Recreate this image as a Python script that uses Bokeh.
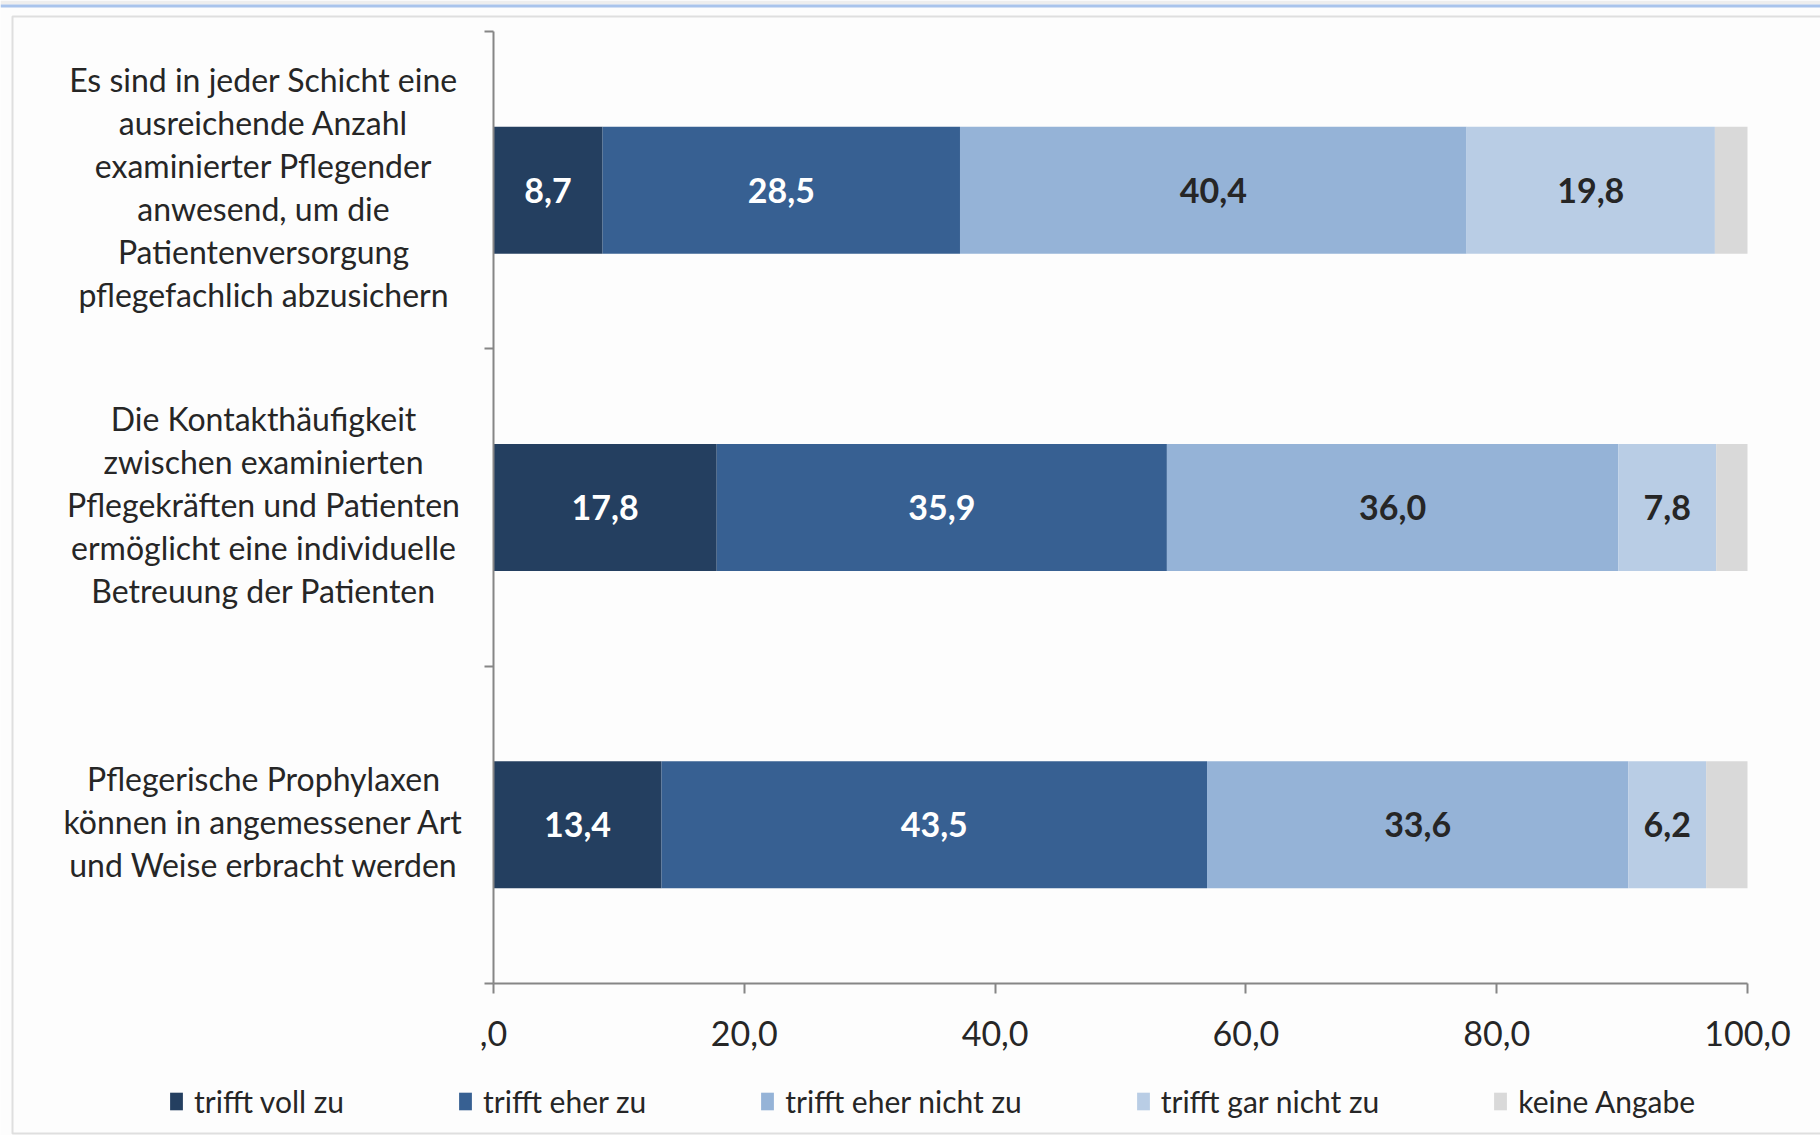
from bokeh.plotting import figure
from bokeh.models import (ColumnDataSource, Range1d, FixedTicker, Label, Legend, LegendItem,
                          BoxAnnotation, LinearAxis)
from bokeh.core.properties import value
from bokeh.embed import file_html
from bokeh.resources import INLINE

# ---- data ----
category_lines = [
    ["Es sind in jeder Schicht eine", "ausreichende Anzahl", "examinierter Pflegender",
     "anwesend, um die", "Patientenversorgung", "pflegefachlich abzusichern"],
    ["Die Kontakthäufigkeit", "zwischen examinierten", "Pflegekräften und Patienten",
     "ermöglicht eine individuelle", "Betreuung der Patienten"],
    ["Pflegerische Prophylaxen", "können in angemessener Art", "und Weise erbracht werden"],
]
series_names = ["trifft voll zu", "trifft eher zu", "trifft eher nicht zu",
                "trifft gar nicht zu", "keine Angabe"]
trifft_voll_zu = [8.7, 17.8, 13.4]
trifft_eher_zu = [28.5, 35.9, 43.5]
trifft_eher_nicht_zu = [40.4, 36.0, 33.6]
trifft_gar_nicht_zu = [19.8, 7.8, 6.2]
keine_angabe = [2.6, 2.5, 3.3]
series_values = [trifft_voll_zu, trifft_eher_zu, trifft_eher_nicht_zu,
                 trifft_gar_nicht_zu, keine_angabe]
show_labels = [True, True, True, True, False]
x_ticks = [0, 20, 40, 60, 80, 100]
x_tick_labels = [",0", "20,0", "40,0", "60,0", "80,0", "100,0"]

# ---- style ----
colors = ["#243F60", "#376092", "#95B3D7", "#B9CDE5", "#D9D9D9"]
label_colors = ["#FFFFFF", "#FFFFFF", "#262626", "#262626", "#262626"]
FONT = "Lato"
TEXT = "#262626"
AXIS = "#868686"

W, H = 1820, 1135
# plot area of the bars in canvas pixels
PX_L, PX_R, PX_T, PX_B = 493, 1747, 31, 983
sx = (PX_R - PX_L) / 100.0
sy = (PX_B - PX_T) / 3.0

y_pos = [2.5, 1.5, 0.5]  # first category on top

p = figure(width=W, height=H,
           x_range=Range1d(-PX_L / sx, 100 + (W - PX_R) / sx),
           y_range=Range1d(-(H - PX_B) / sy, 3 + PX_T / sy),
           output_backend="svg", toolbar_location=None,
           x_axis_location=None, y_axis_location=None,
           min_border=0)
p.outline_line_color = None
p.grid.visible = False
p.background_fill_color = "#FDFDFD"
p.border_fill_color = "#FDFDFD"

legend_items = []
left = [0.0, 0.0, 0.0]
for name, vals, col, lc, show in zip(series_names, series_values, colors, label_colors, show_labels):
    right = [l + v for l, v in zip(left, vals)]
    src = ColumnDataSource(dict(
        y=y_pos, left=left, right=right,
        mid=[(l + r) / 2 for l, r in zip(left, right)],
        txt=[f"{v:.1f}".replace(".", ",") for v in vals],
    ))
    r = p.hbar(y="y", left="left", right="right", height=0.4, source=src,
               fill_color=col, line_color=None)
    legend_items.append(LegendItem(label=name, renderers=[r]))
    if show:
        p.text(x="mid", y="y", text="txt", source=src, text_align="center",
               text_baseline="middle", text_font=value(FONT), text_font_style="bold",
               text_font_size="34px", text_color=lc)
    left = right

# x axis
xa = LinearAxis(fixed_location=0, bounds=(0, 100))
xa.ticker = FixedTicker(ticks=x_ticks)
xa.major_label_overrides = {t: s for t, s in zip(x_ticks, x_tick_labels)}
xa.minor_tick_line_color = None
xa.major_tick_in = 0
xa.major_tick_out = 10
xa.axis_line_color = AXIS
xa.axis_line_width = 2
xa.major_tick_line_color = AXIS
xa.major_tick_line_width = 2
xa.major_label_text_font = FONT
xa.major_label_text_font_size = "34px"
xa.major_label_text_color = TEXT
xa.major_label_standoff = 27
p.add_layout(xa, "below")

# y axis: tick marks at category boundaries, labels drawn separately
ya = LinearAxis(fixed_location=0, bounds=(0, 3))
ya.ticker = FixedTicker(ticks=[0, 1, 2, 3])
ya.major_label_overrides = {0: "", 1: "", 2: "", 3: ""}
ya.minor_tick_line_color = None
ya.major_tick_in = 0
ya.major_tick_out = 9
ya.axis_line_color = AXIS
ya.axis_line_width = 2
ya.major_tick_line_color = AXIS
ya.major_tick_line_width = 2
p.add_layout(ya, "left")

# category labels (multi-line, centered on the bars)
LINE = 43
label_x = (263 - PX_L) / sx
for lines, yc in zip(category_lines, y_pos):
    n = len(lines)
    for i, ln in enumerate(lines):
        p.add_layout(Label(x=label_x, y=yc, y_offset=-(i - (n - 1) / 2) * LINE + 3, text=ln,
                           text_align="center", text_baseline="middle",
                           text_font=FONT, text_font_size="32px", text_color=TEXT))

legend = Legend(items=legend_items, orientation="horizontal", location=(168, 16),
                spacing=113, label_standoff=10, glyph_width=16, glyph_height=22,
                padding=0, margin=0, border_line_color=None, background_fill_alpha=0,
                label_text_font=FONT, label_text_font_size="30px", label_text_color=TEXT)
p.add_layout(legend)

# outer frame and top line
cu = dict(left_units="canvas", right_units="canvas", top_units="canvas", bottom_units="canvas")
p.add_layout(BoxAnnotation(left=0, right=W, top=0, bottom=4, fill_color="#EEEEEE",
                           fill_alpha=1, line_color=None, **cu))
p.add_layout(BoxAnnotation(left=0, right=W, top=4, bottom=7, fill_color="#A9C4EC",
                           fill_alpha=1, line_color=None, **cu))
p.add_layout(BoxAnnotation(left=12, right=W + 20, top=16, bottom=1133, fill_color=None,
                           fill_alpha=0, line_color="#9A9A9A", line_width=2, **cu))

open("out.html", "w").write(file_html(p, INLINE))
